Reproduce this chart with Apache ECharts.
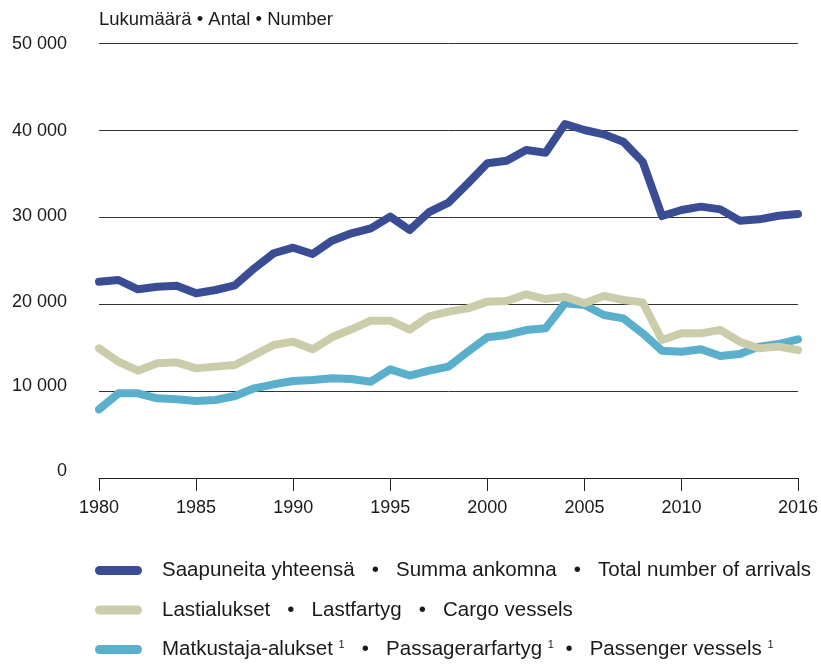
<!DOCTYPE html>
<html>
<head>
<meta charset="utf-8">
<script src="https://cdn.jsdelivr.net/npm/echarts@6/dist/echarts.min.js"></script>
<style>
  html, body { margin: 0; padding: 0; background: #fff; }
  #chart { width: 821px; height: 664px; }
</style>
</head>
<body>
<div id="chart"></div>
<script>
  var years = ['1980', '1981', '1982', '1983', '1984', '1985', '1986', '1987', '1988', '1989',
    '1990', '1991', '1992', '1993', '1994', '1995', '1996', '1997', '1998', '1999',
    '2000', '2001', '2002', '2003', '2004', '2005', '2006', '2007', '2008', '2009',
    '2010', '2011', '2012', '2013', '2014', '2015', '2016'];

  // Saapuneita yhteensä
  var total = [22560, 22760, 21690, 21990, 22100, 21230, 21610, 22150, 24100, 25830,
    26470, 25750, 27280, 28120, 28700, 30040, 28500, 30560, 31650, 33870,
    36170, 36470, 37700, 37390, 40690, 40000, 39500, 38660, 36360, 30110,
    30800, 31190, 30880, 29580, 29730, 30150, 30340];

  // Lastialukset
  var cargo = [14900, 13370, 12340, 13180, 13290, 12600, 12800, 12990, 14140, 15290,
    15670, 14790, 16170, 17090, 18080, 18080, 17050, 18580, 19120, 19500,
    20270, 20340, 21110, 20570, 20840, 20080, 20920, 20460, 20190, 15860,
    16630, 16630, 17010, 15670, 14900, 15100, 14710];

  // Matkustaja-alukset
  var passenger = [7890, 9730, 9730, 9160, 9040, 8850, 8970, 9430, 10310, 10770,
    11150, 11260, 11460, 11380, 11070, 12490, 11780, 12340, 12800, 14520,
    16170, 16440, 17010, 17200, 20080, 19890, 18740, 18350, 16630, 14630,
    14520, 14790, 14020, 14250, 15100, 15400, 15940];

  var yTicks = [0, 10000, 20000, 30000, 40000, 50000];
  var yTickLabels = ['0', '10 000', '20 000', '30 000', '40 000', '50 000'];
  var shownYears = ['1980', '1985', '1990', '1995', '2000', '2005', '2010', '2016'];

  var seriesNames = [
    'Saapuneita yhteensä • Summa ankomna • Total number of arrivals',
    'Lastialukset • Lastfartyg • Cargo vessels',
    'Matkustaja-alukset • Passagerarfartyg • Passenger vessels'
  ];
  var legendLabels = [
    'Saapuneita yhteensä   •   Summa ankomna   •   Total number of arrivals',
    'Lastialukset   •   Lastfartyg   •   Cargo vessels',
    'Matkustaja-alukset {s|1}   •   Passagerarfartyg {s|1}  •   Passenger vessels {s|1}'
  ];

  var colors = ['#3a4d94', '#cbcdaa', '#59afcc'];
  var font = 'Liberation Sans, Arial, sans-serif';

  // the printed y labels sit a little above their gridlines, more so lower down
  var labelPads = [[0, 0, 13, 0], [0, 0, 9, 0], [0, 0, 3, 0], [0, 0, 1, 0], [3, 0, 0, 0], [3, 0, 0, 0]];
  var labelRich = {};
  labelPads.forEach(function (pad, i) {
    labelRich['o' + i] = { fontFamily: font, fontSize: 18, color: '#1a1a1a', padding: pad };
  });

  function showYear(index, value) {
    return shownYears.indexOf(value) >= 0;
  }

  function lineSeries(i, data, z) {
    return {
      name: seriesNames[i],
      type: 'line',
      data: data,
      z: z,
      symbol: 'none',
      silent: true,
      color: colors[i],
      lineStyle: {
        width: 8,
        color: colors[i],
        cap: 'round',
        join: 'round'
      },
      emphasis: { disabled: true }
    };
  }

  var myChart = echarts.init(document.getElementById('chart'));

  myChart.setOption({
    backgroundColor: '#fff',
    animation: false,
    textStyle: { fontFamily: font, color: '#1a1a1a' },
    title: {
      text: 'Lukumäärä • Antal • Number',
      left: 99,
      top: 10,
      padding: 0,
      textStyle: {
        fontFamily: font,
        fontSize: 18.5,
        fontWeight: 'normal',
        color: '#1a1a1a'
      }
    },
    legend: {
      orient: 'vertical',
      left: 95,
      top: 560,
      padding: 0,
      itemWidth: 47,
      itemHeight: 9,
      itemGap: 18.5,
      icon: 'path://M4.5,0 H42.5 A4.5,4.5 0 0 1 42.5,9 H4.5 A4.5,4.5 0 0 1 4.5,0 Z',
      data: seriesNames,
      selectedMode: false,
      formatter: function (name) {
        return legendLabels[seriesNames.indexOf(name)];
      },
      textStyle: {
        fontFamily: font,
        fontSize: 20.5,
        lineHeight: 20,
        color: '#1a1a1a',
        padding: [0, 0, 0, 15],
        rich: {
          s: {
            fontFamily: font,
            fontSize: 11,
            lineHeight: 12,
            color: '#1a1a1a',
            verticalAlign: 'top',
            padding: [0, 0, 6, 0]
          }
        }
      }
    },
    grid: {
      left: 99,
      right: 21,
      top: 43,
      bottom: 186
    },
    xAxis: {
      type: 'category',
      data: years,
      boundaryGap: false,
      axisLine: { lineStyle: { color: '#222', width: 1 } },
      axisTick: {
        interval: showYear,
        length: 13,
        lineStyle: { color: '#222', width: 1 }
      },
      axisLabel: {
        interval: showYear,
        margin: 21,
        fontFamily: font,
        fontSize: 18,
        color: '#1a1a1a'
      },
      splitLine: { show: false }
    },
    yAxis: {
      type: 'value',
      min: yTicks[0],
      max: yTicks[yTicks.length - 1],
      interval: yTicks[1] - yTicks[0],
      axisLine: { show: false },
      axisTick: { show: false },
      axisLabel: {
        margin: 32,
        fontFamily: font,
        fontSize: 18,
        color: '#1a1a1a',
        rich: labelRich,
        formatter: function (v) {
          var i = yTicks.indexOf(v);
          return '{o' + i + '|' + yTickLabels[i] + '}';
        }
      },
      splitLine: { lineStyle: { color: '#333', width: 1 } }
    },
    series: [
      lineSeries(2, passenger, 2),
      lineSeries(1, cargo, 3),
      lineSeries(0, total, 4)
    ]
  });
</script>
</body>
</html>
